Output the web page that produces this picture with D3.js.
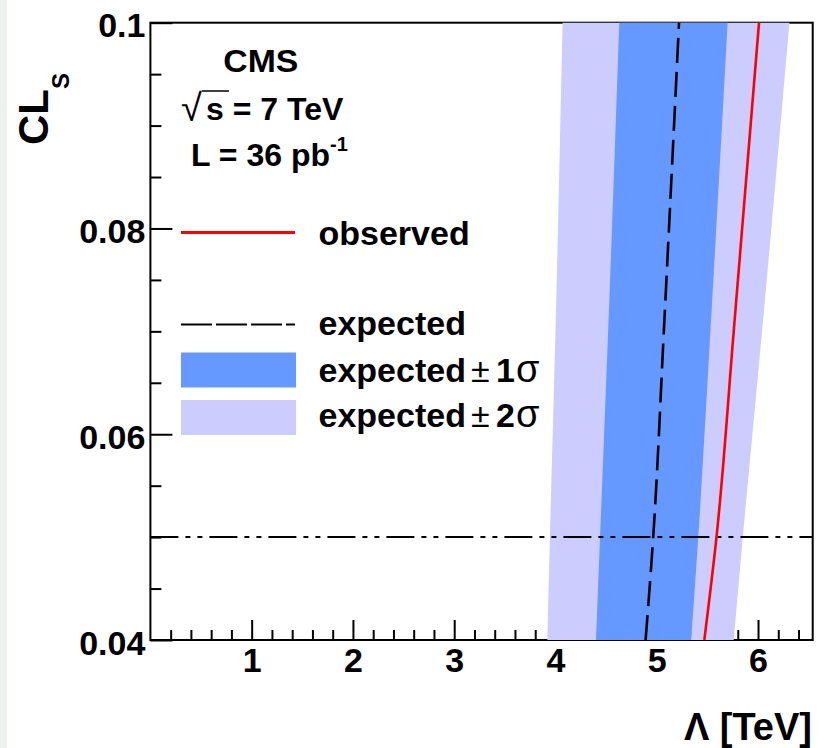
<!DOCTYPE html>
<html>
<head>
<meta charset="utf-8">
<script src="https://cdn.jsdelivr.net/npm/d3@7"></script>
<style>
  html, body { margin: 0; padding: 0; background: #ffffff; }
  svg { display: block; }
  text { font-family: "Liberation Sans", Arial, Helvetica, sans-serif; }
</style>
</head>
<body>
<script>
// ---------------- data ----------------
const clsLevels  = [0.04, 0.05, 0.07, 0.10];   // CLs values (y)
const expected   = [4.89, 4.965, 5.07, 5.22];  // Lambda [TeV] (x)
const observed   = [5.47, 5.59, 5.76, 6.01];
const minus1     = [4.40, 4.44, 4.52, 4.63];
const plus1      = [5.34, 5.41, 5.53, 5.70];
const minus2     = [3.92, 3.945, 4.00, 4.07];
const plus2      = [5.76, 5.85, 6.04, 6.31];
const limitCLs   = 0.05;
const xTickValues = [1, 2, 3, 4, 5, 6];
const yTickValues = [0.04, 0.06, 0.08, 0.1];
const yTickLabels = ["0.04", "0.06", "0.08", "0.1"];
const xDomain = [0, 6.54];
const yDomain = [0.04, 0.1];

// ---------------- setup ----------------
const W = 825, H = 748;
const svg = d3.select("body").append("svg").attr("width", W).attr("height", H);
svg.append("rect").attr("x", 0).attr("y", 0).attr("width", 7).attr("height", H).attr("fill", "#eff1ef");

const x = d3.scaleLinear().domain(xDomain).range([150.4, 812.7]);
const y = d3.scaleLinear().domain(yDomain).range([640, 22.7]);

const rows = clsLevels.map((c, i) => ({
  cls: c, exp: expected[i], obs: observed[i],
  m1: minus1[i], p1: plus1[i], m2: minus2[i], p2: plus2[i]
}));

// ---------------- frame & axes ----------------
svg.append("rect")
  .attr("x", x(xDomain[0])).attr("y", y(yDomain[1]))
  .attr("width", x(xDomain[1]) - x(xDomain[0]))
  .attr("height", y(yDomain[0]) - y(yDomain[1]))
  .attr("fill", "none").attr("stroke", "#000").attr("stroke-width", 2);

const minorX = d3.range(1, 33).filter(i => i % 5 !== 0).map(i => i / 5);
const minorY = d3.range(1, 12).filter(i => i % 4 !== 0).map(i => 0.04 + i * 0.005);

function styleAxis(g) {
  g.select(".domain").remove();
  g.selectAll(".tick line").attr("stroke", "#000").attr("stroke-width", 2);
  g.selectAll("text")
    .attr("fill", "#000")
    .style("font-family", '"Liberation Sans", Arial, sans-serif')
    .style("font-weight", "bold")
    .style("font-size", "34px");
}

svg.append("g").attr("transform", `translate(0,${y(yDomain[0])})`)
  .call(d3.axisBottom(x).tickValues(minorX).tickSizeInner(-10).tickSizeOuter(0).tickFormat(""))
  .call(styleAxis);
svg.append("g").attr("transform", `translate(0,${y(yDomain[0])})`)
  .call(d3.axisBottom(x).tickValues(xTickValues).tickSizeInner(-20).tickSizeOuter(0)
        .tickPadding(8).tickFormat(d3.format("d")))
  .call(styleAxis);

svg.append("g").attr("transform", `translate(${x(xDomain[0])},0)`)
  .call(d3.axisLeft(y).tickValues(minorY).tickSizeInner(-11).tickSizeOuter(0).tickFormat(""))
  .call(styleAxis);
svg.append("g").attr("transform", `translate(${x(xDomain[0])},0)`)
  .call(d3.axisLeft(y).tickValues(yTickValues).tickSizeInner(-22).tickSizeOuter(0)
        .tickPadding(5).tickFormat((d, i) => yTickLabels[i]))
  .call(styleAxis)
  .call(g => g.selectAll("text").attr("dy", "0.42em"));

// ---------------- bands ----------------
const area2 = d3.area().y(d => y(d.cls)).x0(d => x(d.m2)).x1(d => x(d.p2)).curve(d3.curveMonotoneY);
const area1 = d3.area().y(d => y(d.cls)).x0(d => x(d.m1)).x1(d => x(d.p1)).curve(d3.curveMonotoneY);
svg.append("path").datum(rows).attr("d", area2).attr("fill", "#ccccff");
svg.append("path").datum(rows).attr("d", area1).attr("fill", "#6699ff");

// ---------------- limit line ----------------
svg.append("line")
  .attr("x1", x(xDomain[0])).attr("x2", x(xDomain[1]))
  .attr("y1", y(limitCLs)).attr("y2", y(limitCLs))
  .attr("stroke", "#000").attr("stroke-width", 2)
  .attr("stroke-dasharray", "28,7,5,7,5,7");

// ---------------- curves ----------------
const lineExp = d3.line().y(d => y(d.cls)).x(d => x(d.exp)).curve(d3.curveMonotoneY);
const lineObs = d3.line().y(d => y(d.cls)).x(d => x(d.obs)).curve(d3.curveMonotoneY);
svg.append("path").datum(rows).attr("d", lineExp)
  .attr("fill", "none").attr("stroke", "#000").attr("stroke-width", 2.6)
  .attr("stroke-dasharray", "25,9");
svg.append("path").datum(rows).attr("d", lineObs)
  .attr("fill", "none").attr("stroke", "#ff0000").attr("stroke-width", 2.6);

// ---------------- legend ----------------
const lg = svg.append("g");
lg.append("line").attr("x1", 181).attr("x2", 295).attr("y1", 232.5).attr("y2", 232.5)
  .attr("stroke", "#ff0000").attr("stroke-width", 3.2);
lg.append("line").attr("x1", 181).attr("x2", 295).attr("y1", 324.5).attr("y2", 324.5)
  .attr("stroke", "#000").attr("stroke-width", 2.2).attr("stroke-dasharray", "31,4");
lg.append("rect").attr("x", 181).attr("y", 352.5).attr("width", 115).attr("height", 35).attr("fill", "#6699ff");
lg.append("rect").attr("x", 181).attr("y", 400).attr("width", 115).attr("height", 35).attr("fill", "#ccccff");

function legendText(yb, sign) {
  const t = lg.append("text").attr("x", 318.5).attr("y", yb).attr("fill", "#000")
    .style("font-size", "34px").style("font-weight", "bold");
  t.append("tspan").text("expected");
  if (sign) {
    t.append("tspan").attr("x", 471).style("font-weight", "normal").text("±");
    t.append("tspan").attr("x", 496).text(sign);
    t.append("tspan").attr("x", 516).style("font-weight", "normal").style("font-size", "38px").text("σ");
  }
}
lg.append("text").attr("x", 318.5).attr("y", 245).attr("fill", "#000")
  .style("font-size", "34px").style("font-weight", "bold").text("observed");
legendText(335, null);
legendText(381.5, "1");
legendText(426.5, "2");

// ---------------- CMS label ----------------
svg.append("text").attr("x", 260.8).attr("y", 71.5).attr("text-anchor", "middle")
  .style("font-size", "31px").style("font-weight", "bold")
  .attr("textLength", 75).attr("lengthAdjust", "spacingAndGlyphs").text("CMS");

const sq = svg.append("text").attr("x", 181).attr("y", 121).style("font-weight", "bold");
sq.append("tspan").style("font-weight", "normal").style("font-size", "38px").text("√");
sq.append("tspan").attr("x", 206).attr("dy", -1).style("font-size", "32px").text("s = 7 TeV");
svg.append("line").attr("x1", 202).attr("x2", 229).attr("y1", 91).attr("y2", 91)
  .attr("stroke", "#000").attr("stroke-width", 1.5);

const lum = svg.append("text").attr("x", 191).attr("y", 165.5).style("font-weight", "bold");
lum.append("tspan").style("font-size", "32px").text("L = 36 pb");
lum.append("tspan").attr("dy", -15).style("font-size", "20px").text("-1");

// ---------------- axis titles ----------------
svg.append("text").attr("x", 812).attr("y", 740).attr("text-anchor", "end")
  .style("font-size", "38px").style("font-weight", "bold").text("Λ [TeV]");

const yt = svg.append("text").attr("transform", "translate(48,145) rotate(-90)")
  .style("font-weight", "bold");
yt.append("tspan").style("font-size", "42px").text("CL");
yt.append("tspan").attr("dy", 21).style("font-size", "24px").text("S");
</script>
</body>
</html>
